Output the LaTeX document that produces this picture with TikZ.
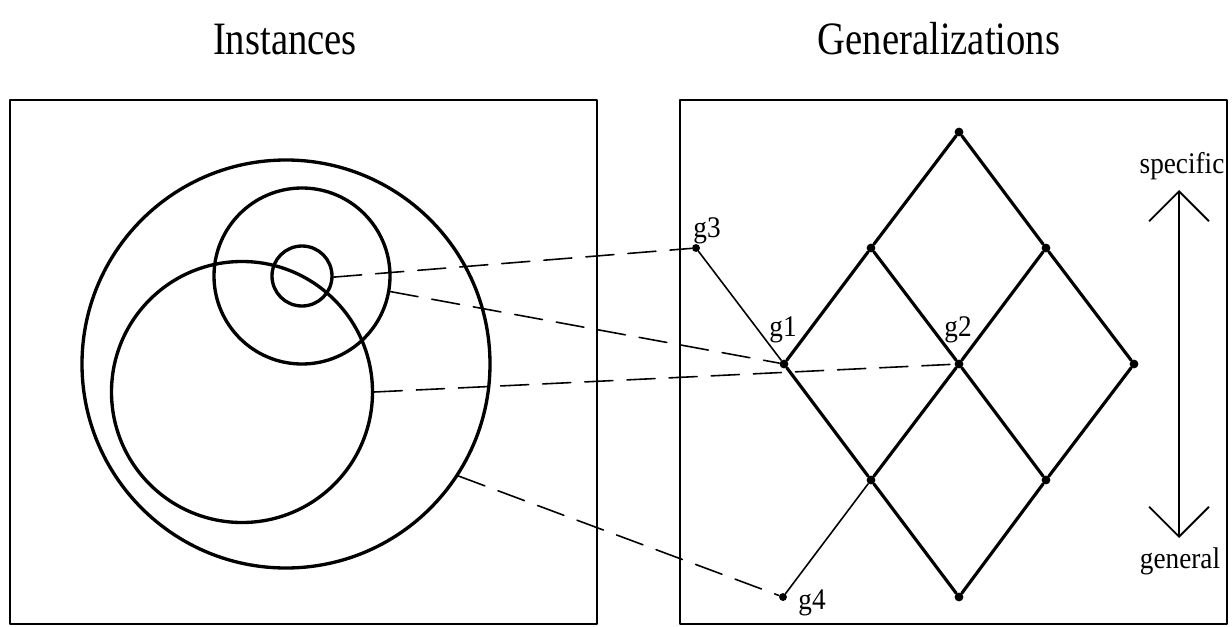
\documentclass[tikz,border=0pt]{standalone}
\usepackage{fontspec}
\setmainfont{Liberation Serif}
\usetikzlibrary{arrows.meta}
\begin{document}
\begin{tikzpicture}[x=0.2mm, y=-0.2mm, line cap=round, line join=round]
	
	\tikzset{
		frame/.style={line width=0.8pt},
		ring/.style={circle, draw, line width=1.9pt, inner sep=0pt},
		dot/.style={circle, fill, inner sep=0pt, minimum size=5pt},
		edge/.style={line width=1.8pt},
		thinedge/.style={line width=0.9pt},
		link/.style={line width=0.9pt, dash pattern=on 16pt off 8pt},
		title/.style={font=\fontsize{22}{26}\selectfont, yscale=1.2},
		lbl/.style={font=\fontsize{15.5}{18}\selectfont, yscale=1.1},
		barb/.style={line width=0.6pt, {Straight Barb[length=17pt, width=34pt, line width=1.1pt]}-{Straight Barb[length=17pt, width=34pt, line width=1.1pt]}}
	}
	
	% Fix the picture size
	\useasboundingbox (0,0) rectangle (1232,627);
	
	% Titles
	\node[title, anchor=base] (inst) at (285,54) {Instances};
	\node[title, anchor=base] (gen) at (939,54) {Generalizations};
	
	% Frames
	\draw[frame] (10,100) rectangle (597,624);
	\draw[frame] (680,100) rectangle (1227,624);
	
	% Instance sets
	\node[ring, minimum size=81.6mm] (big) at (286,364) {};
	\node[ring, minimum size=35.2mm] (mid) at (302,276) {};
	\node[ring, minimum size=12mm] (small) at (302,276) {};
	\node[ring, minimum size=52.2mm] (low) at (242,392) {};
	
	% Lattice of generalizations
	\node[dot] (top) at (959,132) {};
	\node[dot] (a1) at (871,248) {};
	\node[dot] (a2) at (1046,248) {};
	\node[dot] (g1) at (784,364) {};
	\node[dot] (g2) at (959,364) {};
	\node[dot] (b3) at (1134,364) {};
	\node[dot] (c1) at (871,480) {};
	\node[dot] (c2) at (1046,480) {};
	\node[dot] (bot) at (959,597) {};
	\node[dot, minimum size=4.5pt] (g3) at (696,248) {};
	\node[dot, minimum size=4.5pt] (g4) at (783,597) {};
	
	\draw[edge] (top) -- (a1) -- (g1) -- (c1) -- (bot) -- (c2) -- (b3) -- (a2) -- (top);
	\draw[edge] (a1) -- (g2) -- (c2);
	\draw[edge] (a2) -- (g2) -- (c1);
	\draw[thinedge] (g3) -- (g1);
	\draw[thinedge] (g4) -- (c1);
	
	% Labels
	\node[lbl] (l3) at (707,231) {g3};
	\node[lbl] (l1) at (783,330) {g1};
	\node[lbl] (l2) at (958,330) {g2};
	\node[lbl] (l4) at (812,603) {g4};
	
	% Dashed mappings
	\draw[link] (small.-2) -- (g3);
	\draw[link] (mid.-10) -- (g1);
	\draw[link] (low.0) -- (g2);
	\draw[link] (big.-33) -- (g4);
	
	% Direction of the ordering
	\node[lbl] (spec) at (1182,166) {specific};
	\node[lbl] (genl) at (1180,561) {general};
	\coordinate (up) at (1179,190);
	\coordinate (down) at (1179,538);
	\draw[barb] (up) -- (down);
	
\end{tikzpicture}
\end{document}
